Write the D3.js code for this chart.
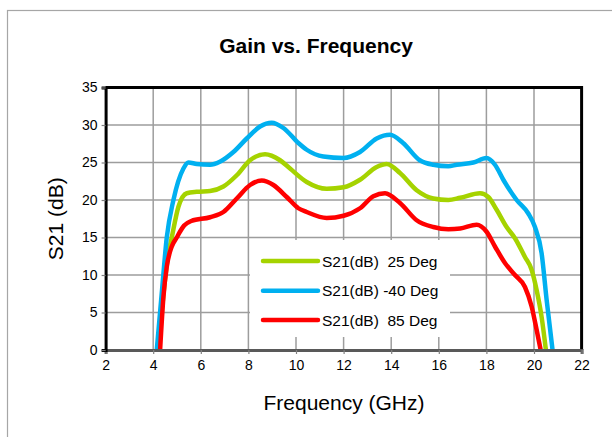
<!DOCTYPE html>
<html>
<head>
<meta charset="utf-8">
<script src="https://cdn.jsdelivr.net/npm/d3@7"></script>
<style>
  html, body { margin: 0; padding: 0; background: #fff; }
  svg { display: block; font-family: "Liberation Sans", Arial, sans-serif; }
</style>
</head>
<body>
<svg id="chart" width="612" height="437"></svg>
<script>
// ---- data ----
const xTicks = [2, 4, 6, 8, 10, 12, 14, 16, 18, 20, 22];
const yTicks = [0, 5, 10, 15, 20, 25, 30, 35];

const freq25 = [4.22, 4.45, 4.62, 4.78, 5.06, 5.41, 5.83, 6.39, 6.95, 7.51, 8.07, 8.7, 9.33, 9.75, 10.45, 11.29, 12.0, 12.69, 13.39, 13.81, 14.37, 15.07, 15.77, 16.4, 16.9, 17.73, 18.08, 18.43, 18.85, 19.2, 19.62, 19.9, 20.11, 20.32, 20.5];
const s21_25 = [0, 8, 12.5, 15, 19.1, 20.9, 21.1, 21.2, 21.8, 23.3, 25.3, 26.1, 25.3, 24.2, 22.4, 21.5, 21.7, 22.7, 24.4, 24.8, 23.6, 21.3, 20.2, 20, 20.3, 20.9, 20.4, 18.7, 16.4, 14.9, 12.4, 10.7, 8, 4.4, 0];

const freqM40 = [4.15, 4.36, 4.57, 4.85, 5.27, 5.48, 5.83, 6.39, 6.8, 7.37, 7.93, 8.49, 8.98, 9.47, 10.1, 10.45, 11.15, 12.0, 12.69, 13.39, 13.95, 14.5, 15.2, 15.77, 16.4, 16.75, 17.45, 18.0, 18.36, 18.71, 19.27, 19.76, 20.04, 20.32, 20.53, 20.78];
const s21_M40 = [0, 7.6, 15, 20, 24.2, 25, 24.8, 24.7, 25.1, 26.4, 28.2, 29.8, 30.3, 29.6, 27.6, 26.7, 25.8, 25.6, 26.4, 28.2, 28.7, 27.6, 25.3, 24.7, 24.5, 24.7, 25, 25.6, 24.7, 22.7, 20, 18.2, 16.4, 12.9, 6.7, 0];

const freq85 = [4.29, 4.43, 4.57, 4.78, 4.99, 5.13, 5.3, 5.6, 6.39, 6.95, 7.51, 8.07, 8.56, 9.05, 9.61, 10.1, 10.45, 11.29, 12.0, 12.69, 13.25, 13.74, 14.37, 15.07, 15.77, 16.4, 16.9, 17.59, 18.0, 18.36, 18.78, 19.2, 19.62, 19.9, 20.11, 20.28];
const s21_85 = [0, 7.1, 11.1, 13.8, 15.0, 15.8, 16.6, 17.2, 17.7, 18.4, 20.2, 22, 22.6, 22, 20.4, 18.9, 18.4, 17.6, 17.9, 18.9, 20.5, 20.9, 19.6, 17.3, 16.4, 16.1, 16.2, 16.7, 15.8, 13.8, 11.6, 10, 8.4, 5.8, 2.7, 0];

const seriesNames = ["S21(dB)\u00a0\u00a025 Deg", "S21(dB) -40 Deg", "S21(dB)\u00a0\u00a085 Deg"];
const seriesColors = ["#a5d300", "#00b0f0", "#ff0000"];

const series = [
  { name: seriesNames[0], color: seriesColors[0], pts: freq25.map((f, i) => [f, s21_25[i]]) },
  { name: seriesNames[1], color: seriesColors[1], pts: freqM40.map((f, i) => [f, s21_M40[i]]) },
  { name: seriesNames[2], color: seriesColors[2], pts: freq85.map((f, i) => [f, s21_85[i]]) }
];

// ---- layout ----
const svg = d3.select("#chart");
const L = 105.6, R = 581.6, T = 87.5, B = 350;

// outer chart-area border
svg.append("rect")
  .attr("x", 7.5).attr("y", 10.5).attr("width", 700).attr("height", 500)
  .attr("fill", "#fff").attr("stroke", "#a6a6a6").attr("stroke-width", 1.2);

const x = d3.scaleLinear().domain([2, 22]).range([L, R]);
const y = d3.scaleLinear().domain([0, 35]).range([B, T]);

// gridlines
const grid = svg.append("g");
grid.selectAll("line.v").data(xTicks.slice(1, -1)).join("line")
  .attr("x1", d => x(d)).attr("x2", d => x(d)).attr("y1", T).attr("y2", B)
  .attr("stroke", "#9d9d9d").attr("stroke-width", 1.5);
grid.selectAll("line.h").data(yTicks.slice(1, -1)).join("line")
  .attr("x1", L).attr("x2", R).attr("y1", d => y(d)).attr("y2", d => y(d))
  .attr("stroke", "#9d9d9d").attr("stroke-width", 1.5);

// legend background (covers grid)
const legX = 250, legY = 240, legW = 200, legH = 97;
svg.append("rect").attr("x", legX).attr("y", legY).attr("width", legW).attr("height", legH)
  .attr("fill", "#fff");

// clip
svg.append("clipPath").attr("id", "plotclip").append("rect")
  .attr("x", L).attr("y", T).attr("width", R - L).attr("height", B - T);

const line = d3.line().x(d => x(d[0])).y(d => y(d[1])).curve(d3.curveMonotoneX);
svg.append("g").attr("clip-path", "url(#plotclip)")
  .selectAll("path").data(series).join("path")
  .attr("d", d => line(d.pts))
  .attr("fill", "none").attr("stroke", d => d.color).attr("stroke-width", 4.5)
  .attr("stroke-linejoin", "round").attr("stroke-linecap", "round");

// plot border: top/right black
svg.append("line").attr("x1", L).attr("x2", R).attr("y1", T).attr("y2", T)
  .attr("stroke", "#000").attr("stroke-width", 3);
svg.append("line").attr("x1", R).attr("x2", R).attr("y1", T - 1.5).attr("y2", B)
  .attr("stroke", "#000").attr("stroke-width", 3);

// axes
const xAxis = d3.axisBottom(x).tickValues(xTicks).tickSize(4).tickPadding(6);
const yAxis = d3.axisLeft(y).tickValues(yTicks).tickSize(4).tickPadding(4);

const gx = svg.append("g").attr("transform", `translate(0,${B})`).call(xAxis);
gx.select(".domain").attr("stroke", "#595959").attr("stroke-width", 3);
gx.selectAll(".tick line").attr("stroke", "#808080").attr("stroke-width", 1.2);
gx.selectAll(".tick text").attr("font-size", 14).attr("fill", "#000")
  .attr("font-family", "Liberation Sans, Arial, sans-serif");

const gy = svg.append("g").attr("transform", `translate(${L},0)`).call(yAxis);
gy.select(".domain").attr("stroke", "#000").attr("stroke-width", 3);
gy.selectAll(".tick line").attr("stroke", "#808080").attr("stroke-width", 1.2);
gy.selectAll(".tick text").attr("font-size", 14).attr("fill", "#000")
  .attr("font-family", "Liberation Sans, Arial, sans-serif");

// titles
svg.append("text").attr("x", 316).attr("y", 45).attr("text-anchor", "middle")
  .attr("dominant-baseline", "central").attr("font-size", 21).attr("font-weight", "bold")
  .text("Gain vs. Frequency");
svg.append("text").attr("x", 344).attr("y", 402).attr("text-anchor", "middle")
  .attr("dominant-baseline", "central").attr("font-size", 21)
  .text("Frequency (GHz)");
svg.append("text").attr("transform", `translate(55,${(T + B) / 2}) rotate(-90)`)
  .attr("text-anchor", "middle").attr("dominant-baseline", "central").attr("font-size", 21)
  .text("S21 (dB)");

// legend entries
const legRowY = [261, 290.7, 320];
const leg = svg.append("g");
series.forEach((s, i) => {
  leg.append("line").attr("x1", 263).attr("x2", 318).attr("y1", legRowY[i]).attr("y2", legRowY[i])
    .attr("stroke", s.color).attr("stroke-width", 4.5).attr("stroke-linecap", "round");
  leg.append("text").attr("x", 322).attr("y", legRowY[i]).attr("dominant-baseline", "central")
    .attr("font-size", 15.5).text(s.name);
});
</script>
</body>
</html>
